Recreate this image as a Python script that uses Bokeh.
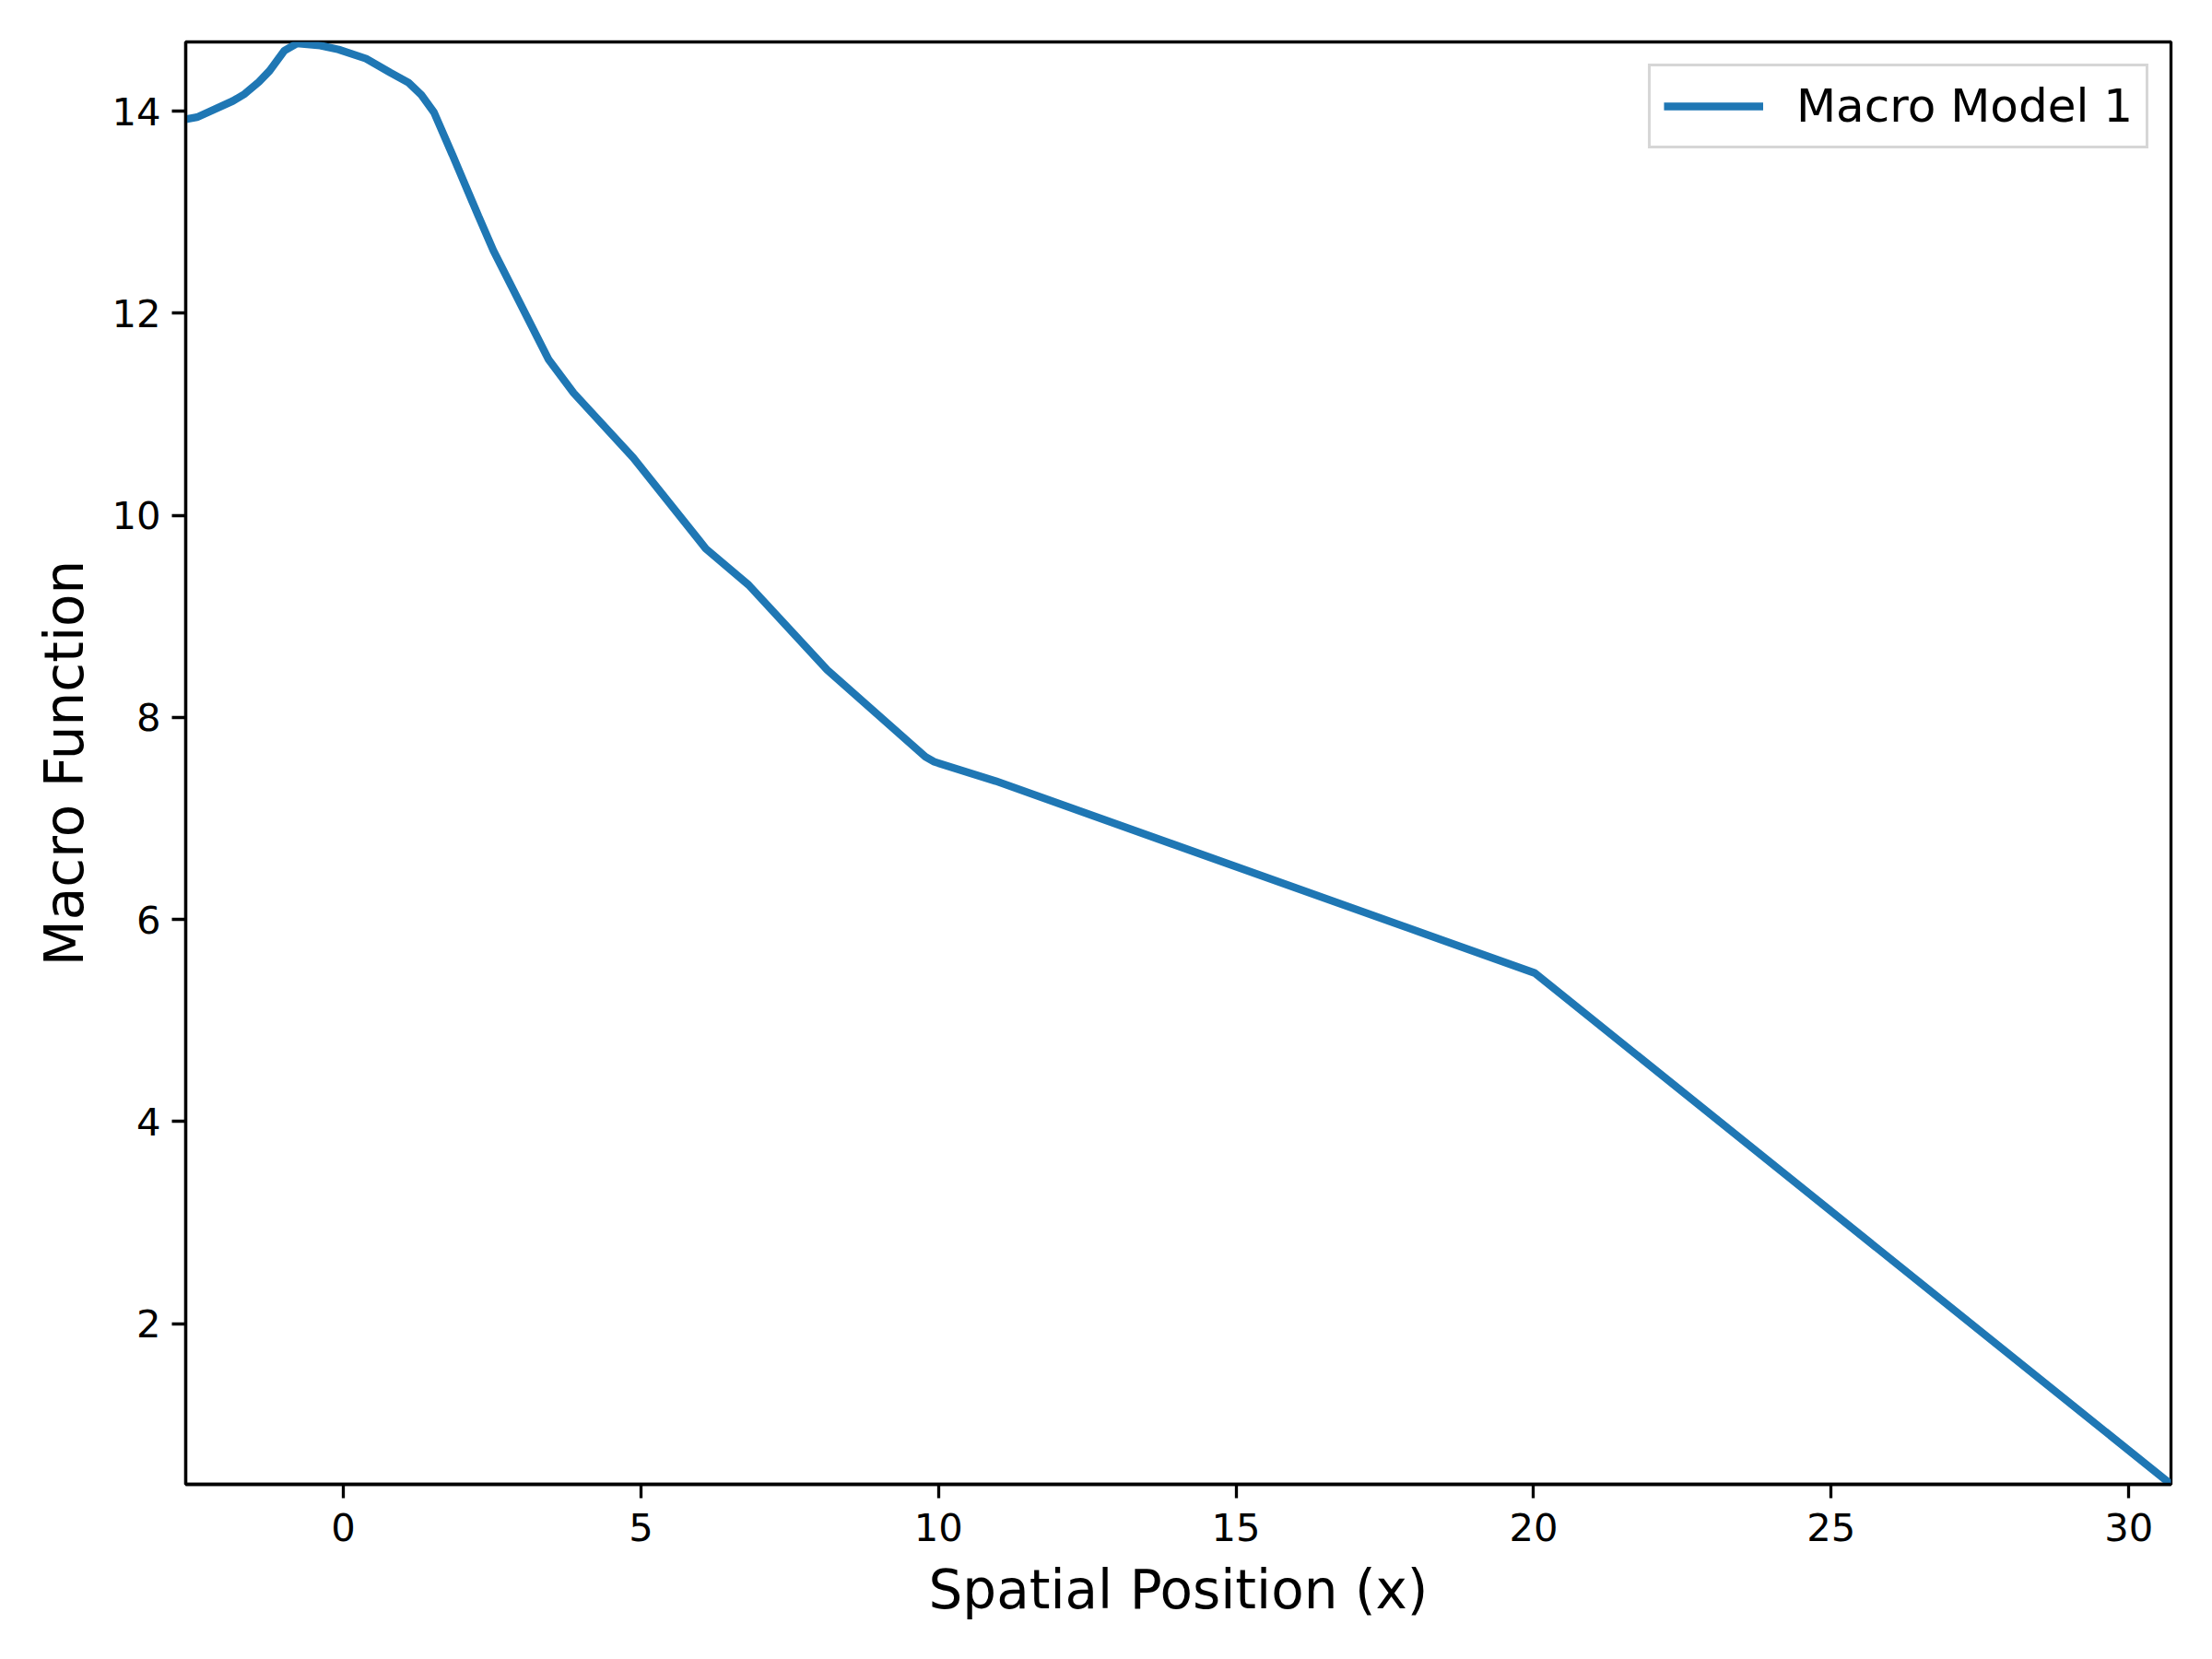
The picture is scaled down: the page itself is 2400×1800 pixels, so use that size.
from bokeh.plotting import figure
from bokeh.models import Range1d, FixedTicker, Legend, LegendItem
from bokeh.embed import file_html
from bokeh.resources import INLINE

# Data
x_pos = [-2.65, -2.46, -1.86, -1.66, -1.42, -1.24, -0.99, -0.78, -0.39, -0.08,
         0.38, 0.79, 1.10, 1.31, 1.52, 1.83, 2.27, 2.52, 3.45, 3.87,
         4.87, 6.09, 6.81, 8.13, 9.78, 9.93, 10.96, 20.02, 30.71]
macro_vals = [13.92, 13.94, 14.10, 14.17, 14.29, 14.40, 14.60, 14.67, 14.65, 14.61,
              14.52, 14.38, 14.28, 14.16, 13.99, 13.57, 12.96, 12.62, 11.54, 11.21,
              10.57, 9.67, 9.31, 8.47, 7.61, 7.56, 7.37, 5.47, 0.41]
x_ticks = [0, 5, 10, 15, 20, 25, 30]
y_ticks = [2, 4, 6, 8, 10, 12, 14]
series_name = "Macro Model 1"
x_label = "Spatial Position (x)"
y_label = "Macro Function"

FONT = "DejaVu Sans"

p = figure(frame_width=2154, frame_height=1565,
           min_border_left=201, min_border_top=45, min_border_right=37, min_border_bottom=182,
           x_range=Range1d(-2.65, 30.71), y_range=Range1d(0.41, 14.685),
           output_backend="svg", toolbar_location=None)

p.xgrid.visible = False
p.ygrid.visible = False
p.background_fill_color = "white"
p.border_fill_color = "white"
p.outline_line_color = "black"
p.outline_line_width = 3.3
p.outline_line_alpha = 1.0

r = p.line(x_pos, macro_vals, line_color="#1f77b4", line_width=8.3)

for ax, ticks in ((p.xaxis[0], x_ticks), (p.yaxis[0], y_ticks)):
    ax.ticker = FixedTicker(ticks=ticks)
    ax.minor_tick_line_color = None
    ax.major_tick_in = 0
    ax.major_tick_out = 15
    ax.major_tick_line_width = 3.3
    ax.major_tick_line_color = "black"
    ax.axis_line_width = 3.3
    ax.axis_line_color = "black"
    ax.major_label_text_font = FONT
    ax.major_label_text_font_size = "41.7px"
    ax.major_label_text_color = "black"
    ax.axis_label_text_font = FONT
    ax.axis_label_text_font_size = "58px"
    ax.axis_label_text_font_style = "normal"
    ax.axis_label_text_color = "black"

p.xaxis[0].axis_label = x_label
p.yaxis[0].axis_label = y_label
p.xaxis[0].major_label_standoff = 16
p.yaxis[0].major_label_standoff = 12
p.xaxis[0].axis_label_standoff = 16
p.yaxis[0].axis_label_standoff = 14

legend = Legend(items=[LegendItem(label=series_name, renderers=[r])],
                location="top_right",
                margin=24, padding=14, spacing=0,
                glyph_width=108, glyph_height=56,
                label_height=56, label_standoff=36,
                label_text_font=FONT, label_text_font_size="50px",
                label_text_color="black",
                border_line_color="#d6d6d6", border_line_width=3.3, border_line_alpha=1.0,
                background_fill_color="white", background_fill_alpha=0.8)
p.add_layout(legend, "center")

open("out.html", "w").write(file_html(p, INLINE))
